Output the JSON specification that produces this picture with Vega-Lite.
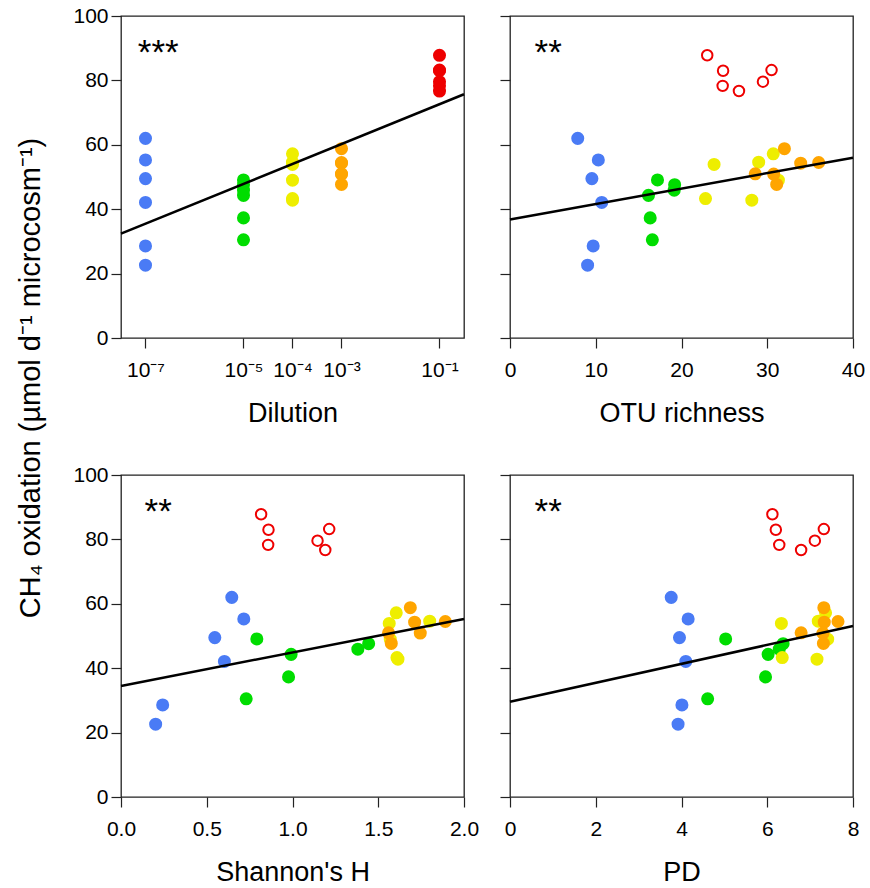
{
  "$schema": "https://vega.github.io/schema/vega-lite/v6.json",
  "background": "white",
  "padding": {"left": 17, "top": 4, "right": 5, "bottom": 5},
  "config": {
    "font": "Liberation Sans",
    "view": {"stroke": "#222", "strokeWidth": 1.3},
    "axis": {"domain": false, "grid": false, "ticks": true, "tickColor": "#222", "tickSize": 10, "tickWidth": 1.2, "labelFont": "Liberation Sans", "labelFontSize": 21, "labelColor": "black", "labelPadding": 11, "titleFont": "Liberation Sans", "titleFontSize": 27, "titleFontWeight": "normal", "titleColor": "black", "titlePadding": 20, "labelFlush": false, "labelOverlap": false},
    "axisY": {"labelPadding": 3}
  },
  "title": {"text": "CH₄ oxidation (µmol d⁻¹ microcosm⁻¹)", "orient": "left", "anchor": "middle", "fontSize": 29, "fontWeight": "normal", "font": "Liberation Sans", "color": "black", "offset": 26, "dx": 67},
  "datasets": {
    "pts": [
      {"group": "a", "dilution": 1e-7, "otu": 7.9, "shannon": 0.646, "pd": 3.76, "ch4": 62.0},
      {"group": "a", "dilution": 1e-7, "otu": 10.3, "shannon": 0.716, "pd": 4.155, "ch4": 55.3},
      {"group": "a", "dilution": 1e-7, "otu": 9.55, "shannon": 0.547, "pd": 3.953, "ch4": 49.5},
      {"group": "a", "dilution": 1e-7, "otu": 10.7, "shannon": 0.603, "pd": 4.10, "ch4": 42.1},
      {"group": "a", "dilution": 1e-7, "otu": 9.7, "shannon": 0.243, "pd": 4.01, "ch4": 28.6},
      {"group": "a", "dilution": 1e-7, "otu": 9.05, "shannon": 0.202, "pd": 3.92, "ch4": 22.6},
      {"group": "b", "dilution": 1e-5, "otu": 17.2, "shannon": 0.792, "pd": 5.03, "ch4": 49.1},
      {"group": "b", "dilution": 1e-5, "otu": 19.2, "shannon": 1.444, "pd": 6.37, "ch4": 47.6},
      {"group": "b", "dilution": 1e-5, "otu": 19.15, "shannon": 1.381, "pd": 6.28, "ch4": 45.9},
      {"group": "b", "dilution": 1e-5, "otu": 16.15, "shannon": 0.992, "pd": 6.02, "ch4": 44.3},
      {"group": "b", "dilution": 1e-5, "otu": 16.35, "shannon": 0.977, "pd": 5.96, "ch4": 37.3},
      {"group": "b", "dilution": 1e-5, "otu": 16.6, "shannon": 0.730, "pd": 4.61, "ch4": 30.5},
      {"group": "c", "dilution": 1e-4, "otu": 30.7, "shannon": 1.605, "pd": 7.36, "ch4": 57.2},
      {"group": "c", "dilution": 1e-4, "otu": 29.0, "shannon": 1.80, "pd": 7.19, "ch4": 54.6},
      {"group": "c", "dilution": 1e-4, "otu": 23.8, "shannon": 1.564, "pd": 6.33, "ch4": 53.9},
      {"group": "c", "dilution": 1e-4, "otu": 31.3, "shannon": 1.570, "pd": 7.41, "ch4": 49.0},
      {"group": "c", "dilution": 1e-4, "otu": 22.8, "shannon": 1.609, "pd": 6.35, "ch4": 43.3},
      {"group": "c", "dilution": 1e-4, "otu": 28.2, "shannon": 1.615, "pd": 7.16, "ch4": 42.8},
      {"group": "d", "dilution": 1e-3, "otu": 32.0, "shannon": 1.687, "pd": 7.32, "ch4": 58.8},
      {"group": "d", "dilution": 1e-3, "otu": 36.0, "shannon": 1.891, "pd": 7.65, "ch4": 54.5},
      {"group": "d", "dilution": 1e-3, "otu": 33.9, "shannon": 1.712, "pd": 7.33, "ch4": 54.3},
      {"group": "d", "dilution": 1e-3, "otu": 28.6, "shannon": 1.56, "pd": 6.79, "ch4": 51.0},
      {"group": "d", "dilution": 1e-3, "otu": 30.75, "shannon": 1.745, "pd": 7.30, "ch4": 50.9},
      {"group": "d", "dilution": 1e-3, "otu": 31.1, "shannon": 1.576, "pd": 7.31, "ch4": 47.7},
      {"group": "e", "dilution": 1e-1, "otu": 23.0, "shannon": 0.817, "pd": 6.12, "ch4": 87.8},
      {"group": "e", "dilution": 1e-1, "otu": 24.85, "shannon": 0.860, "pd": 6.20, "ch4": 83.0},
      {"group": "e", "dilution": 1e-1, "otu": 30.5, "shannon": 1.214, "pd": 7.32, "ch4": 83.2},
      {"group": "e", "dilution": 1e-1, "otu": 29.5, "shannon": 1.146, "pd": 7.11, "ch4": 79.6},
      {"group": "e", "dilution": 1e-1, "otu": 24.8, "shannon": 0.858, "pd": 6.28, "ch4": 78.3},
      {"group": "e", "dilution": 1e-1, "otu": 26.7, "shannon": 1.191, "pd": 6.79, "ch4": 76.7}
    ],
    "fit": [
      {"panel": "dilution", "x": 3.1623e-8, "y": 32.4},
      {"panel": "dilution", "x": 0.31623, "y": 75.7},
      {"panel": "otu", "x": 0, "y": 36.8},
      {"panel": "otu", "x": 40, "y": 56.0},
      {"panel": "shannon", "x": 0, "y": 34.5},
      {"panel": "shannon", "x": 2, "y": 55.3},
      {"panel": "pd", "x": 0, "y": 29.6},
      {"panel": "pd", "x": 8, "y": 53.1}
    ],
    "stars": [
      {"panel": "dilution", "x": 1.82e-7, "y": 85.0, "label": "***"},
      {"panel": "otu", "x": 4.46, "y": 85.0, "label": "**"},
      {"panel": "shannon", "x": 0.217, "y": 85.0, "label": "**"},
      {"panel": "pd", "x": 0.89, "y": 85.0, "label": "**"}
    ]
  },
  "columns": 2,
  "bounds": "flush",
  "spacing": {"row": 137, "column": 46},
  "concat": [
    {
      "width": 343, "height": 322,
      "layer": [
        {
          "data": {"name": "pts"},
          "mark": {"type": "circle", "size": 170, "opacity": 1},
          "encoding": {
            "x": {"field": "dilution", "type": "quantitative", "title": "Dilution", "scale": {"type": "log", "domain": [3.1623e-8, 0.31623], "nice": false}, "axis": {"values": [1e-7, 1e-5, 1e-4, 1e-3, 1e-1], "labelExpr": "datum.value < 3e-7 ? '10⁻⁷' : datum.value < 3e-5 ? '10⁻⁵' : datum.value < 3e-4 ? '10⁻⁴' : datum.value < 3e-3 ? '10⁻³' : '10⁻¹'"}},
            "y": {"field": "ch4", "type": "quantitative", "title": null, "scale": {"domain": [0, 100], "nice": false}, "axis": {"values": [0, 20, 40, 60, 80, 100]}},
            "color": {"field": "group", "type": "nominal", "legend": null, "scale": {"domain": ["a", "b", "c", "d", "e"], "range": ["#4A7BF5", "#00DD00", "#EEEE00", "#FFA500", "#EE0000"]}}
          }
        },
        {
          "data": {"name": "fit"},
          "transform": [{"filter": "datum.panel == 'dilution'"}],
          "mark": {"type": "line", "color": "black", "strokeWidth": 2.5},
          "encoding": {
            "x": {"field": "x", "type": "quantitative", "title": "Dilution"},
            "y": {"field": "y", "type": "quantitative", "title": null}
          }
        },
        {
          "data": {"name": "stars"},
          "transform": [{"filter": "datum.panel == 'dilution'"}],
          "mark": {"type": "text", "fontSize": 35, "color": "black", "align": "center", "baseline": "alphabetic", "font": "Liberation Sans"},
          "encoding": {
            "x": {"field": "x", "type": "quantitative", "title": "Dilution"},
            "y": {"field": "y", "type": "quantitative", "title": null},
            "text": {"field": "label"}
          }
        }
      ]
    },
    {
      "width": 343, "height": 322,
      "layer": [
        {
          "data": {"name": "pts"},
          "transform": [{"filter": "datum.group != 'e'"}],
          "mark": {"type": "circle", "size": 170, "opacity": 1},
          "encoding": {
            "x": {"field": "otu", "type": "quantitative", "title": "OTU richness", "scale": {"domain": [0, 40], "nice": false}, "axis": {"values": [0, 10, 20, 30, 40]}},
            "y": {"field": "ch4", "type": "quantitative", "title": null, "scale": {"domain": [0, 100], "nice": false}, "axis": {"values": [0, 20, 40, 60, 80, 100], "labels": false}},
            "color": {"field": "group", "type": "nominal", "legend": null, "scale": {"domain": ["a", "b", "c", "d", "e"], "range": ["#4A7BF5", "#00DD00", "#EEEE00", "#FFA500", "#EE0000"]}}
          }
        },
        {
          "data": {"name": "pts"},
          "transform": [{"filter": "datum.group == 'e'"}],
          "mark": {"type": "point", "shape": "circle", "filled": false, "size": 110, "strokeWidth": 2, "opacity": 1},
          "encoding": {
            "x": {"field": "otu", "type": "quantitative", "title": "OTU richness"},
            "y": {"field": "ch4", "type": "quantitative", "title": null},
            "color": {"field": "group", "type": "nominal", "legend": null}
          }
        },
        {
          "data": {"name": "fit"},
          "transform": [{"filter": "datum.panel == 'otu'"}],
          "mark": {"type": "line", "color": "black", "strokeWidth": 2.5},
          "encoding": {
            "x": {"field": "x", "type": "quantitative", "title": "OTU richness"},
            "y": {"field": "y", "type": "quantitative", "title": null}
          }
        },
        {
          "data": {"name": "stars"},
          "transform": [{"filter": "datum.panel == 'otu'"}],
          "mark": {"type": "text", "fontSize": 35, "color": "black", "align": "center", "baseline": "alphabetic", "font": "Liberation Sans"},
          "encoding": {
            "x": {"field": "x", "type": "quantitative", "title": "OTU richness"},
            "y": {"field": "y", "type": "quantitative", "title": null},
            "text": {"field": "label"}
          }
        }
      ]
    },
    {
      "width": 343, "height": 322,
      "layer": [
        {
          "data": {"name": "pts"},
          "transform": [{"filter": "datum.group != 'e'"}],
          "mark": {"type": "circle", "size": 170, "opacity": 1},
          "encoding": {
            "x": {"field": "shannon", "type": "quantitative", "title": "Shannon's H", "scale": {"domain": [0, 2], "nice": false}, "axis": {"values": [0, 0.5, 1, 1.5, 2], "format": ".1f"}},
            "y": {"field": "ch4", "type": "quantitative", "title": null, "scale": {"domain": [0, 100], "nice": false}, "axis": {"values": [0, 20, 40, 60, 80, 100]}},
            "color": {"field": "group", "type": "nominal", "legend": null, "scale": {"domain": ["a", "b", "c", "d", "e"], "range": ["#4A7BF5", "#00DD00", "#EEEE00", "#FFA500", "#EE0000"]}}
          }
        },
        {
          "data": {"name": "pts"},
          "transform": [{"filter": "datum.group == 'e'"}],
          "mark": {"type": "point", "shape": "circle", "filled": false, "size": 110, "strokeWidth": 2, "opacity": 1},
          "encoding": {
            "x": {"field": "shannon", "type": "quantitative", "title": "Shannon's H"},
            "y": {"field": "ch4", "type": "quantitative", "title": null},
            "color": {"field": "group", "type": "nominal", "legend": null}
          }
        },
        {
          "data": {"name": "fit"},
          "transform": [{"filter": "datum.panel == 'shannon'"}],
          "mark": {"type": "line", "color": "black", "strokeWidth": 2.5},
          "encoding": {
            "x": {"field": "x", "type": "quantitative", "title": "Shannon's H"},
            "y": {"field": "y", "type": "quantitative", "title": null}
          }
        },
        {
          "data": {"name": "stars"},
          "transform": [{"filter": "datum.panel == 'shannon'"}],
          "mark": {"type": "text", "fontSize": 35, "color": "black", "align": "center", "baseline": "alphabetic", "font": "Liberation Sans"},
          "encoding": {
            "x": {"field": "x", "type": "quantitative", "title": "Shannon's H"},
            "y": {"field": "y", "type": "quantitative", "title": null},
            "text": {"field": "label"}
          }
        }
      ]
    },
    {
      "width": 343, "height": 322,
      "layer": [
        {
          "data": {"name": "pts"},
          "transform": [{"filter": "datum.group != 'e'"}],
          "mark": {"type": "circle", "size": 170, "opacity": 1},
          "encoding": {
            "x": {"field": "pd", "type": "quantitative", "title": "PD", "scale": {"domain": [0, 8], "nice": false}, "axis": {"values": [0, 2, 4, 6, 8]}},
            "y": {"field": "ch4", "type": "quantitative", "title": null, "scale": {"domain": [0, 100], "nice": false}, "axis": {"values": [0, 20, 40, 60, 80, 100], "labels": false}},
            "color": {"field": "group", "type": "nominal", "legend": null, "scale": {"domain": ["a", "b", "c", "d", "e"], "range": ["#4A7BF5", "#00DD00", "#EEEE00", "#FFA500", "#EE0000"]}}
          }
        },
        {
          "data": {"name": "pts"},
          "transform": [{"filter": "datum.group == 'e'"}],
          "mark": {"type": "point", "shape": "circle", "filled": false, "size": 110, "strokeWidth": 2, "opacity": 1},
          "encoding": {
            "x": {"field": "pd", "type": "quantitative", "title": "PD"},
            "y": {"field": "ch4", "type": "quantitative", "title": null},
            "color": {"field": "group", "type": "nominal", "legend": null}
          }
        },
        {
          "data": {"name": "fit"},
          "transform": [{"filter": "datum.panel == 'pd'"}],
          "mark": {"type": "line", "color": "black", "strokeWidth": 2.5},
          "encoding": {
            "x": {"field": "x", "type": "quantitative", "title": "PD"},
            "y": {"field": "y", "type": "quantitative", "title": null}
          }
        },
        {
          "data": {"name": "stars"},
          "transform": [{"filter": "datum.panel == 'pd'"}],
          "mark": {"type": "text", "fontSize": 35, "color": "black", "align": "center", "baseline": "alphabetic", "font": "Liberation Sans"},
          "encoding": {
            "x": {"field": "x", "type": "quantitative", "title": "PD"},
            "y": {"field": "y", "type": "quantitative", "title": null},
            "text": {"field": "label"}
          }
        }
      ]
    }
  ]
}
